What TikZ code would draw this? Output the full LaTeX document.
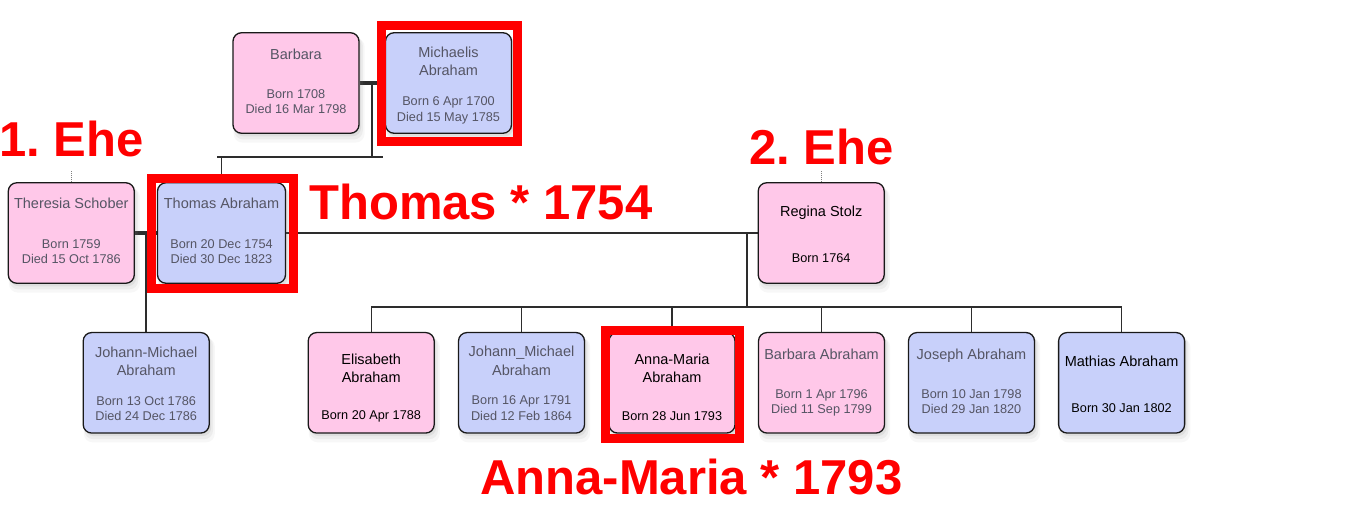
\documentclass[tikz,border=0pt]{standalone}
\usepackage{fontspec}
\setmainfont{Liberation Sans}
\frenchspacing
\usetikzlibrary{shadows,calc}
\definecolor{pinkc}{RGB}{255,200,233}
\definecolor{bluec}{RGB}{200,208,250}
\definecolor{greytxt}{RGB}{85,85,100}
\definecolor{linec}{RGB}{45,45,45}
\definecolor{redc}{RGB}{255,0,0}
\pgfdeclarelayer{back}
\pgfdeclarelayer{bg}
\pgfsetlayers{back,bg,main}
\tikzset{
 pbox/.style={draw=black!90, line width=1.3pt, rounded corners=8.5pt, minimum width=126pt, minimum height=100.5pt, inner sep=0pt,
   drop shadow={shadow xshift=3pt, shadow yshift=-7pt, shadow scale=1.04, opacity=0.06},
   drop shadow={shadow xshift=2.5pt, shadow yshift=-5pt, shadow scale=1.02, opacity=0.09},
   drop shadow={shadow xshift=2pt, shadow yshift=-3pt, opacity=0.12}},
 pinkbox/.style={pbox, fill=pinkc},
 bluebox/.style={pbox, fill=bluec},
 nm/.style={font=\fontsize{14.5}{17}\selectfont, inner sep=0pt, anchor=base},
 dt/.style={font=\fontsize{12.7}{15}\selectfont, inner sep=0pt, anchor=base},
 grey/.style={text=greytxt},
 link/.style={draw=linec, line width=1.4pt},
 couple/.style={draw=linec, line width=4pt},
 stub/.style={draw=gray, line width=0.8pt, dash pattern=on 1pt off 1pt},
 redframe/.style={draw=redc, line width=9pt, inner sep=0pt},
 biglabel/.style={text=redc, font=\fontsize{49}{50}\selectfont\bfseries, inner sep=0pt, anchor=base west},
}
\begin{document}
\begin{tikzpicture}[x=1pt,y=-1pt]
\begin{pgfonlayer}{back}
\fill[white] (0,0) rectangle (1367,515);
\end{pgfonlayer}
\useasboundingbox (0,0) rectangle (1367,515);

% ---- person boxes ----
\node[pinkbox] (barbara) at (296,83) {};
\node[bluebox] (michaelis) at (448.5,83) {};
\node[pinkbox] (theresia) at (71.3,233) {};
\node[bluebox, minimum width=128pt] (thomas) at (221.5,233) {};
\node[pinkbox] (regina) at (821.2,233) {};
\node[bluebox] (johannm1) at (146.2,382.8) {};
\node[pinkbox] (elisabeth) at (371.2,382.8) {};
\node[bluebox] (johannm2) at (521.5,382.8) {};
\node[pinkbox] (annamaria) at (672,382.8) {};
\node[pinkbox] (barbaraA) at (821.5,382.8) {};
\node[bluebox] (joseph) at (971.5,382.8) {};
\node[bluebox] (mathias) at (1121.6,382.8) {};

% ---- connectors ----
\coordinate (bm) at (372,83);
\coordinate (bmd) at (372,157);
\coordinate (hl) at (217,157);
\coordinate (hr) at (383,157);
\coordinate (tt) at ($(theresia.east)!0.5!(thomas.west)$);
\coordinate (tr) at (747,233);
\coordinate (kids) at (0,307);
\begin{pgfonlayer}{bg}
\draw[couple] (barbara.east) -- (michaelis.west);
\draw[link] (bm) -- (bmd);
\draw[link] (hl) -- (hr);
\draw[link] (thomas.north) -- (thomas.north |- bmd);
\draw[couple] (theresia.east) -- (thomas.west);
\draw[link] (tt) -- (tt |- johannm1.north);
\draw[link] (thomas.east) -- (regina.west);
\draw[link] (tr) -- (tr |- kids);
\draw[link] (elisabeth.north |- kids) -- (mathias.north |- kids);
\foreach \k in {elisabeth,johannm2,annamaria,barbaraA,joseph,mathias}
  \draw[link] (\k.north) -- (\k.north |- kids);
\draw[stub] (theresia.north) -- ++(0,-11);
\draw[stub] (regina.north) -- ++(0,-11);
\end{pgfonlayer}

% ---- texts ----
\node[nm,grey] (t-barbara) at (296,59) {Barbara};
\node[dt,grey] (d1-barbara) at (296,98.5) {Born 1708};
\node[dt,grey] (d2-barbara) at (296,113.5) {Died 16 Mar 1798};

\node[nm,grey] (t1-mich) at (448.5,57) {Michaelis};
\node[nm,grey] (t2-mich) at (448.5,75) {Abraham};
\node[dt,grey] (d1-mich) at (448.5,105.5) {Born 6 Apr 1700};
\node[dt,grey] (d2-mich) at (448.5,121) {Died 15 May 1785};

\node[nm,grey] (t-ther) at (71.3,208.3) {Theresia Schober};
\node[dt,grey] (d1-ther) at (71.3,248.5) {Born 1759};
\node[dt,grey] (d2-ther) at (71.3,263.5) {Died 15 Oct 1786};

\node[nm,grey] (t-thom) at (221.5,208.3) {Thomas Abraham};
\node[dt,grey] (d1-thom) at (221.5,248.5) {Born 20 Dec 1754};
\node[dt,grey] (d2-thom) at (221.5,263.5) {Died 30 Dec 1823};

\node[nm] (t-reg) at (821.2,216.7) {Regina Stolz};
\node[dt] (d1-reg) at (821.2,262.8) {Born 1764};

\node[nm,grey] (t1-jm1) at (146.2,357.7) {Johann-Michael};
\node[nm,grey] (t2-jm1) at (146.2,375.7) {Abraham};
\node[dt,grey] (d1-jm1) at (146.2,405.2) {Born 13 Oct 1786};
\node[dt,grey] (d2-jm1) at (146.2,420.5) {Died 24 Dec 1786};

\node[nm] (t1-eli) at (371.2,364) {Elisabeth};
\node[nm] (t2-eli) at (371.2,382) {Abraham};
\node[dt] (d1-eli) at (371.2,419.5) {Born 20 Apr 1788};

\node[nm,grey] (t1-jm2) at (521.5,356.7) {Johann\_Michael};
\node[nm,grey] (t2-jm2) at (521.5,375) {Abraham};
\node[dt,grey] (d1-jm2) at (521.5,404.5) {Born 16 Apr 1791};
\node[dt,grey] (d2-jm2) at (521.5,420) {Died 12 Feb 1864};

\node[nm] (t1-am) at (672,364.3) {Anna-Maria};
\node[nm] (t2-am) at (672,382.3) {Abraham};
\node[dt] (d1-am) at (672,420) {Born 28 Jun 1793};

\node[nm,grey] (t-ba) at (821.5,359) {Barbara Abraham};
\node[dt,grey] (d1-ba) at (821.5,398.8) {Born 1 Apr 1796};
\node[dt,grey] (d2-ba) at (821.5,413.8) {Died 11 Sep 1799};

\node[nm,grey] (t-jos) at (971.5,359) {Joseph Abraham};
\node[dt,grey] (d1-jos) at (971.5,398.8) {Born 10 Jan 1798};
\node[dt,grey] (d2-jos) at (971.5,413.8) {Died 29 Jan 1820};

\node[nm] (t-mat) at (1121.6,366) {Mathias Abraham};
\node[dt] (d1-mat) at (1121.6,412.8) {Born 30 Jan 1802};

% ---- red highlight frames ----
\node[redframe, minimum width=136.5pt, minimum height=115.5pt] (f-mich) at (449.25,83.25) {};
\node[redframe, minimum width=141.5pt, minimum height=109.5pt] (f-thom) at (222.25,233.25) {};
\node[redframe, minimum width=133.5pt, minimum height=107.5pt] (f-am) at (672.25,384.25) {};

% ---- red annotations ----
\node[biglabel] (l-ehe1) at (-1,156) {1. Ehe};
\node[biglabel] (l-ehe2) at (749,164) {2. Ehe};
\node[biglabel] (l-thomas) at (309,219) {Thomas * 1754};
\node[biglabel] (l-anna) at (480,494) {Anna-Maria * 1793};
\end{tikzpicture}
\end{document}
